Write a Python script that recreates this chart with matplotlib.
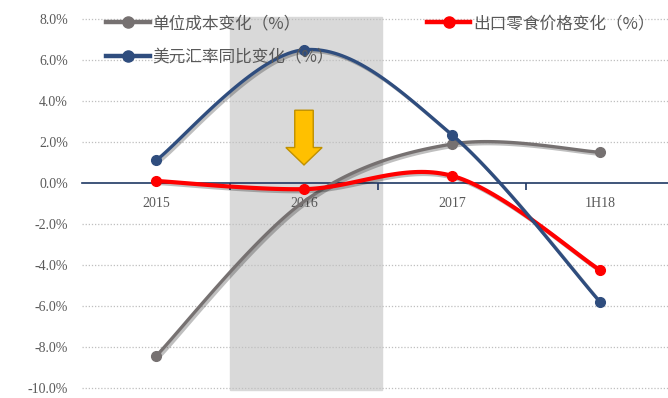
import numpy as np
import matplotlib
matplotlib.use("Agg")
import matplotlib.pyplot as plt
import matplotlib.patheffects as pe
from matplotlib.patches import FancyArrow

plt.rcParams['font.family'] = ['Noto Sans CJK SC', 'DejaVu Sans']

# categories and series (%)
categories = ["2015", "2016", "2017", "1H18"]
unit_cost = [-8.45, -0.9, 1.9, 1.5]
snack_price = [0.1, -0.3, 0.35, -4.25]
fx_rate = [1.1, 6.5, 2.35, -5.8]
labels = ["单位成本变化（%）", "出口零食价格变化（%）", "美元汇率同比变化（%）"]
colors = ["#767171", "#FF0000", "#2F4D7E"]
widths = [2.4, 3.0, 2.4]
# the unit-cost series has no marker shown for 2016
marker_idx = [[0, 2, 3], [0, 1, 2, 3], [0, 1, 2, 3]]
y_ticks = [-10, -8, -6, -4, -2, 0, 2, 4, 6, 8]


def smooth(xs, ys, n=40):
    # Catmull-Rom style smoothing, similar to office "smoothed line"
    xs = np.asarray(xs, float)
    ys = np.asarray(ys, float)
    px = np.concatenate([[xs[0]], xs, [xs[-1]]])
    py = np.concatenate([[ys[0]], ys, [ys[-1]]])
    out_x, out_y = [], []
    for i in range(1, len(px) - 2):
        p0, p1, p2, p3 = [np.array([px[j], py[j]]) for j in (i - 1, i, i + 1, i + 2)]
        c1 = p1 + (p2 - p0) / 6
        c2 = p2 - (p3 - p1) / 6
        t = np.linspace(0, 1, n)[:, None]
        pts = ((1 - t) ** 3) * p1 + 3 * ((1 - t) ** 2) * t * c1 + 3 * (1 - t) * t ** 2 * c2 + t ** 3 * p2
        out_x.extend(pts[:, 0])
        out_y.extend(pts[:, 1])
    return np.array(out_x), np.array(out_y)


fig = plt.figure(figsize=(6.68, 3.98), dpi=100)
ax = fig.add_axes([82 / 668, 10 / 398, 592 / 668, 369 / 398])

x = np.arange(len(categories))
ax.set_xlim(-0.5, 3.5)
ax.set_ylim(-10, 8)

# shaded 2016 band
ax.axvspan(0.5, 1.53, ymin=-0.006, ymax=1.006, color="#D9D9D9", zorder=0, clip_on=False)

# dotted gridlines
for v in y_ticks:
    if v != 0:
        ax.axhline(v, color="#BFBFBF", lw=0.9, ls=(0, (1, 1.5)), zorder=1, clip_on=False)

shadow = [pe.SimpleLineShadow(offset=(1.5, -1.5), alpha=0.25, shadow_color="black"), pe.Normal()]
series = [unit_cost, snack_price, fx_rate]
handles = {}
for k, (ys, c, lab, lw, mi) in enumerate(zip(series, colors, labels, widths, marker_idx)):
    sx, sy = smooth(x, ys)
    ax.plot(sx, sy, color=c, lw=lw, zorder=3 + k, path_effects=shadow, solid_capstyle="round")
    ax.plot(x[mi], np.asarray(ys)[mi], "o", color=c, ms=7, zorder=3 + k)
    h, = ax.plot([], [], color=c, lw=3.2, marker="o", ms=8, label=lab)
    handles[lab] = h

# down arrow over 2016
arrow = FancyArrow(1, 3.55, 0, -2.67, width=0.125, head_width=0.245, head_length=0.85,
                   length_includes_head=True, facecolor="#FFC000", edgecolor="#BF9000",
                   lw=1.0, zorder=8)
ax.add_patch(arrow)

# axes styling
for s in ["left", "right", "top"]:
    ax.spines[s].set_visible(False)
ax.spines["bottom"].set_position(("data", 0))
ax.spines["bottom"].set_color("#1F3864")
ax.spines["bottom"].set_linewidth(1.2)
ax.spines["bottom"].set_zorder(2)

ax.set_xticks([0.5, 1.5, 2.5], minor=False)
ax.set_xticks(x, minor=True)
ax.tick_params(axis="x", which="major", length=5, width=1.2, color="#1F3864", labelbottom=False)
ax.tick_params(axis="x", which="minor", length=0, pad=10, labelsize=10, labelcolor="#595959")
ax.set_xticklabels(categories, minor=True, family="Liberation Serif")

ax.set_yticks(y_ticks)
ax.set_yticklabels([f"{v:.1f}%" for v in y_ticks], family="Liberation Serif")
ax.tick_params(axis="y", length=0, pad=10, labelsize=10, labelcolor="#595959")

# legend: gray and blue in the first column, red in the second
order = [labels[0], labels[2], labels[1]]
leg = fig.legend(handles=[handles[l] for l in order], ncol=2, loc="upper left",
                 bbox_to_anchor=(98 / 668, 1 - 7 / 398),
                 frameon=False, handlelength=2.6, handletextpad=0.15, labelspacing=1.0,
                 columnspacing=5.6, fontsize=12, borderpad=0)
for t in leg.get_texts():
    t.set_color("#595959")

fig.savefig("out.png", dpi=100)
